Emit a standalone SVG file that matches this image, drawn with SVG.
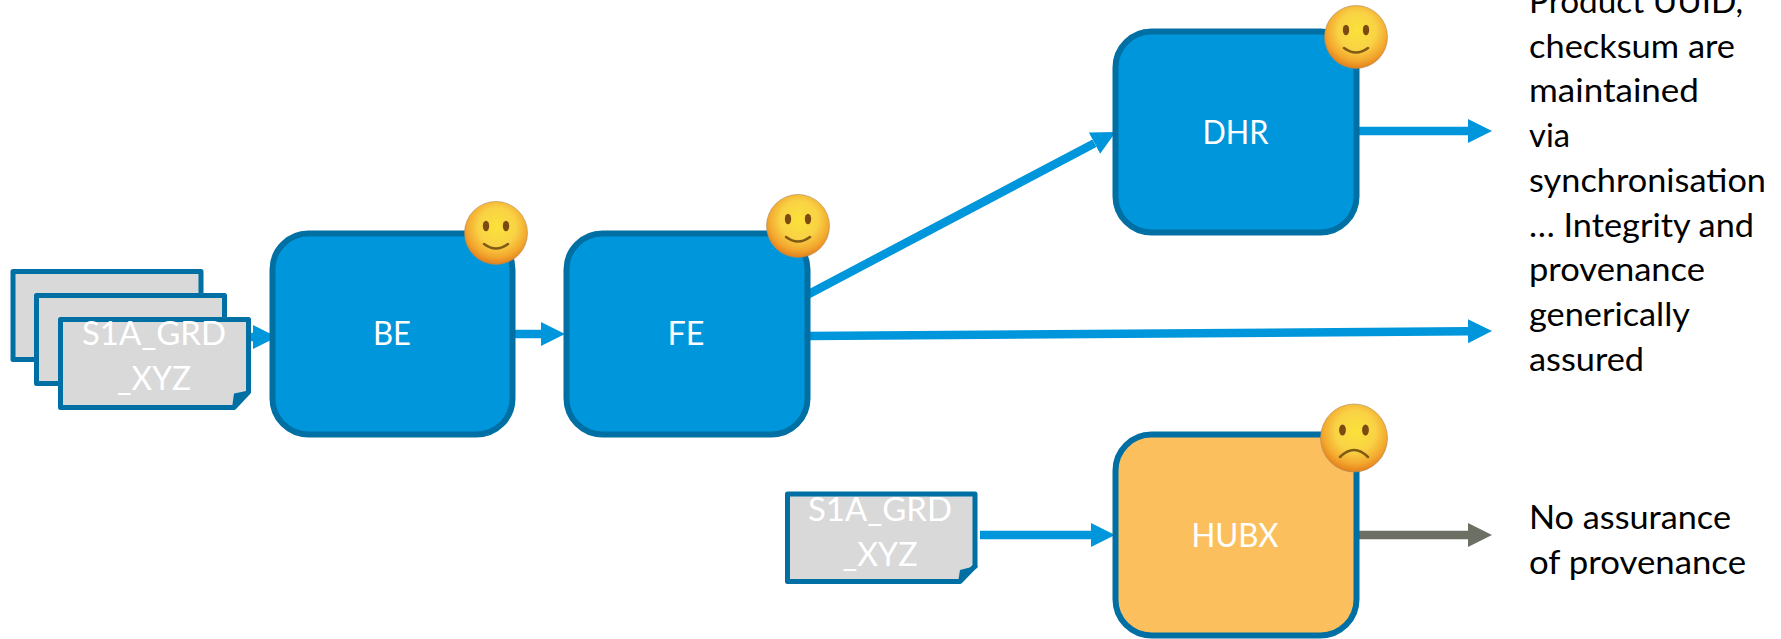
<svg xmlns="http://www.w3.org/2000/svg" width="1781" height="639" viewBox="0 0 1781 639">
<style>
.box{fill:#0096DB;stroke:#0070A4;stroke-width:6}
.hub{fill:#FCBF5E;stroke:#0070A4;stroke-width:6}
.doc{fill:#D9D9D9;stroke:#0070A4;stroke-width:5;stroke-linejoin:round}
.fold{fill:#0070A4;stroke:none}
text{font-family:Lato,"Liberation Sans",sans-serif;font-size:32.5px}
.w{fill:#fff;text-anchor:middle}
.k{fill:#000}
.ln{stroke:#0096DB;stroke-width:8.500;fill:none}
.gy{stroke:#6C6F63;stroke-width:8.500;fill:none}
.ey{fill:#7A4A12}
.mo{fill:none;stroke:#7F5A14;stroke-width:2.500;stroke-linecap:round}
.fc{stroke:#B08A5A;stroke-width:.6}
</style>
<defs>
<radialGradient id="face" cx="52%" cy="40%" r="60%"><stop offset="0" stop-color="#FBE23A"/><stop offset=".5" stop-color="#F9D245"/><stop offset=".8" stop-color="#F3A82E"/><stop offset="1" stop-color="#E47F1C"/></radialGradient>
<marker id="ab" markerUnits="userSpaceOnUse" markerWidth="26" markerHeight="26" refX="0" refY="12" orient="auto"><path d="M0 0L24 12L0 24z" fill="#0096DB"/></marker>
<marker id="ag" markerUnits="userSpaceOnUse" markerWidth="26" markerHeight="26" refX="0" refY="12" orient="auto"><path d="M0 0L24 12L0 24z" fill="#6C6F63"/></marker>
<g id="smile"><circle r="31.500" fill="url(#face)" class="fc"/><ellipse class="ey" cx="-10" cy="-7" rx="3.200" ry="5.200"/><ellipse class="ey" cx="10" cy="-7" rx="3.200" ry="5.200"/><path class="mo" d="M-12 11Q0 20 12 11"/></g>
<g id="frown"><ellipse rx="33.500" ry="34" fill="url(#face)" class="fc"/><ellipse class="ey" cx="-11.500" cy="-8" rx="3.400" ry="5.500"/><ellipse class="ey" cx="11.500" cy="-8" rx="3.400" ry="5.500"/><path class="mo" d="M-14 19Q0 5 14 19"/></g>
</defs>
<g id="connectors">
<path class="ln" marker-end="url(#ab)" d="M250 337H253"/>
<path class="ln" marker-end="url(#ab)" d="M513 334H541"/>
<path class="ln" marker-end="url(#ab)" d="M807 295L1094.500 143.200"/>
<path class="ln" marker-end="url(#ab)" d="M808 336L1468 331.200"/>
<path class="ln" marker-end="url(#ab)" d="M1357 131H1468"/>
<path class="ln" marker-end="url(#ab)" d="M980 535H1091"/>
<path class="gy" marker-end="url(#ag)" d="M1357 535H1468"/>
</g>
<g id="doc-back"><rect class="doc" x="13" y="271.500" width="188" height="88"/></g>
<g id="doc-middle"><rect class="doc" x="36.500" y="295.500" width="188" height="88"/></g>
<g id="doc-front">
<path class="doc" d="M60.500 319.500H248.500V392L234 407.500H60.500z"/>
<path class="fold" d="M251 390L234 393.500L232 408L251 392z"/>
<text class="w" x="154" y="345" textLength="144" lengthAdjust="spacingAndGlyphs">S1A_GRD</text>
<text class="w" x="154" y="390" textLength="74" lengthAdjust="spacingAndGlyphs">_XYZ</text>
</g>
<g id="BE"><rect class="box" x="272.500" y="233.500" width="240" height="201" rx="36"/><text class="w" x="392" y="345" textLength="38" lengthAdjust="spacingAndGlyphs">BE</text></g>
<g id="FE"><rect class="box" x="566.500" y="233.500" width="241" height="201" rx="36"/><text class="w" x="686" y="345" textLength="37" lengthAdjust="spacingAndGlyphs">FE</text></g>
<g id="DHR"><rect class="box" x="1115.500" y="31.500" width="241" height="201" rx="36"/><text class="w" x="1235.500" y="144" textLength="66" lengthAdjust="spacingAndGlyphs">DHR</text></g>
<g id="HUBX"><rect class="hub" x="1115.500" y="434.500" width="241" height="201" rx="36"/><text class="w" x="1235" y="547" textLength="87" lengthAdjust="spacingAndGlyphs">HUBX</text></g>
<g id="doc-single">
<path class="doc" d="M787.500 494H975V566L960 581.500H787.500z"/>
<path class="fold" d="M977.500 565.500L960 570L958 582.500L977.500 567.500z"/>
<text class="w" x="880" y="520.500" textLength="144" lengthAdjust="spacingAndGlyphs">S1A_GRD</text>
<text class="w" x="880" y="565.500" textLength="75" lengthAdjust="spacingAndGlyphs">_XYZ</text>
</g>
<g id="emoji-be"><use href="#smile" x="496" y="233"/></g>
<g id="emoji-fe"><use href="#smile" x="798" y="226"/></g>
<g id="emoji-dhr"><use href="#smile" x="1356" y="37"/></g>
<g id="emoji-hubx"><use href="#frown" x="1354" y="438"/></g>
<g id="label-assured" class="k">
<text x="1529" y="13" textLength="214" lengthAdjust="spacingAndGlyphs">Product UUID,</text>
<text x="1529" y="58" textLength="206" lengthAdjust="spacingAndGlyphs">checksum are</text>
<text x="1529" y="102" textLength="170" lengthAdjust="spacingAndGlyphs">maintained</text>
<text x="1529" y="146.500" textLength="41" lengthAdjust="spacingAndGlyphs">via</text>
<text x="1529" y="191.500" textLength="237" lengthAdjust="spacingAndGlyphs">synchronisation</text>
<text x="1529" y="236.500" textLength="225" lengthAdjust="spacingAndGlyphs">… Integrity and</text>
<text x="1529" y="281" textLength="176" lengthAdjust="spacingAndGlyphs">provenance</text>
<text x="1529" y="326" textLength="161" lengthAdjust="spacingAndGlyphs">generically</text>
<text x="1529" y="370.500" textLength="115" lengthAdjust="spacingAndGlyphs">assured</text>
</g>
<g id="label-none" class="k">
<text x="1529" y="529" textLength="202" lengthAdjust="spacingAndGlyphs">No assurance</text>
<text x="1529" y="574" textLength="217" lengthAdjust="spacingAndGlyphs">of provenance</text>
</g>
</svg>
